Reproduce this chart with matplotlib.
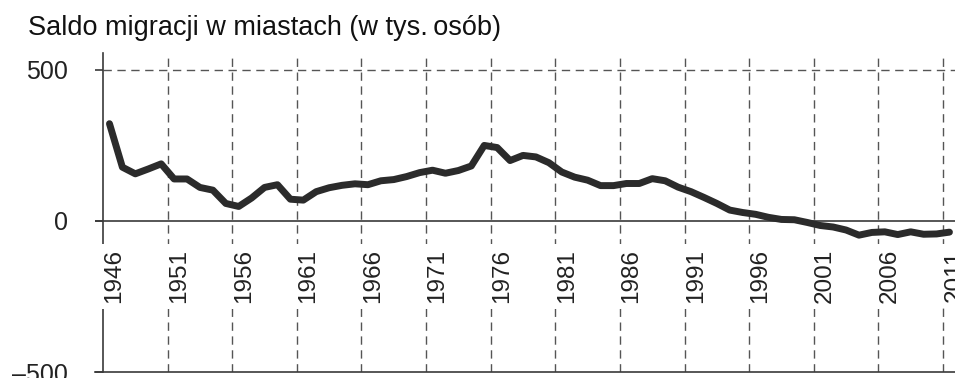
import matplotlib
matplotlib.use("Agg")
import matplotlib.pyplot as plt

# Saldo migracji w miastach, w tys. osób (lata 1946-2011)
lata = list(range(1946, 2012))
saldo = [
    322, 178, 156, 172, 189, 139, 139, 111, 102, 58,
    48, 76, 111, 120, 72, 69, 97, 110, 118, 123,
    120, 133, 137, 147, 160, 168, 158, 167, 182, 250,
    243, 200, 217, 212, 193, 162, 145, 135, 117, 117,
    124, 124, 140, 133, 112, 97, 78, 58, 36, 28,
    22, 12, 5, 4, -5, -15, -20, -30, -47, -38,
    -36, -45, -36, -44, -43, -37,
]
lata_opisane = list(range(1946, 2012, 5))
wartosci_y = [500, 0, -500]
tytul = "Saldo migracji w miastach (w tys.\u2009osób)"

plt.rcParams["font.family"] = ["Liberation Sans", "DejaVu Sans"]
kolor_osi = "#3a3a3a"

fig = plt.figure(figsize=(9.55, 3.78), dpi=100)
ax = fig.add_axes([95 / 955, 6 / 378, 860 / 955, 319 / 378])
ax.set_xlim(1945.38, 2011.93)
ax.set_ylim(-500, 556)

# osie
for s in ["top", "right"]:
    ax.spines[s].set_visible(False)
ax.spines["left"].set_position(("data", 1946))
ax.spines["left"].set_color(kolor_osi)
ax.spines["left"].set_linewidth(1.2)
ax.spines["bottom"].set_color(kolor_osi)
ax.spines["bottom"].set_linewidth(1.2)
ax.set_xticks([])
ax.set_yticks(wartosci_y)
ax.set_yticklabels([str(v).replace("-", "\u2013") for v in wartosci_y])
ax.tick_params(axis="y", direction="out", length=6, width=1.2,
               color=kolor_osi, pad=19, labelsize=18, labelcolor="#222222")

# siatka
ax.axhline(0, color=kolor_osi, lw=1.2, zorder=2)
ax.hlines(500, 1946, 2011.93, colors="#555555", lw=1.0,
          linestyles=(0, (6, 4)), zorder=1)
ax.vlines(lata_opisane[1:], -500, 556, colors="#555555", lw=1.0,
          linestyles=(0, (6, 4)), zorder=1)

# podpisy lat na białym tle
for rok in lata_opisane:
    ax.text(rok + 1.35, -183, str(rok), rotation=90, rotation_mode="anchor",
            ha="center", va="baseline", fontsize=17.5, color="#222222",
            bbox=dict(facecolor="white", edgecolor="none", pad=4),
            zorder=3, clip_on=False)

# dane umieszczone w połowie roku
x = [r + 0.5 for r in lata]
ax.plot(x, saldo, color="#2b2b2b", lw=5, solid_joinstyle="round",
        solid_capstyle="round", zorder=4)

fig.text(28 / 955, 1 - 35 / 378, tytul, fontsize=19.5, color="#111111",
         va="baseline", ha="left")

fig.savefig("out.png", dpi=100)
